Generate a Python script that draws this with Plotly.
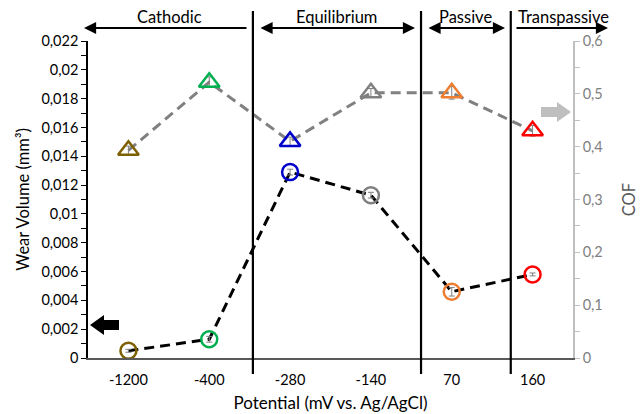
import plotly.graph_objects as go

# ---- data ----
potentials = ["-1200", "-400", "-280", "-140", "70", "160"]
wear_volume = [0.0005, 0.0013, 0.0129, 0.0113, 0.0046, 0.0058]
wear_err = [0.0001, 0.0002, 0.0002, 0.0002, 0.0003, 0.0001]
cof = [0.393, 0.522, 0.41, 0.502, 0.502, 0.43]
cof_err = [0.008, 0.01, 0.008, 0.008, 0.012, 0.01]
point_colors = ["#7F6000", "#00B050", "#0000CC", "#808080", "#ED7D31", "#FF0000"]
left_ticks = [0, 0.002, 0.004, 0.006, 0.008, 0.01, 0.012, 0.014, 0.016, 0.018, 0.02, 0.022]
right_ticks = [0, 0.1, 0.2, 0.3, 0.4, 0.5, 0.6]
regions = ["Cathodic", "Equilibrium", "Passive", "Transpassive"]
region_bounds = [1.54, 3.62, 4.73]

W, H = 642, 414
L, R, T, B = 88, 573, 41, 358
FONT = "Lato"


def px(x):
    return (x - L) / (R - L)


def py(y):
    return (B - y) / (B - T)


fig = go.Figure()

# COF (secondary axis)
fig.add_trace(go.Scatter(
    x=potentials, y=cof, yaxis="y2", mode="lines",
    line=dict(color="#808080", width=3, dash="10px,6px"),
    hoverinfo="skip", showlegend=False))
fig.add_trace(go.Scatter(
    x=potentials, y=cof, yaxis="y2", mode="markers",
    marker=dict(symbol="triangle-up-open", size=18, color=point_colors,
                line=dict(width=2.5)),
    error_y=dict(type="data", array=cof_err, color="#7F7F7F", thickness=1, width=3),
    showlegend=False))

# Wear volume (primary axis)
fig.add_trace(go.Scatter(
    x=potentials, y=wear_volume, mode="lines",
    line=dict(color="#000000", width=3, dash="10px,6px"),
    hoverinfo="skip", showlegend=False))
fig.add_trace(go.Scatter(
    x=potentials, y=wear_volume, mode="markers",
    marker=dict(symbol="circle-open", size=16, color=point_colors,
                line=dict(width=2.5)),
    error_y=dict(type="data", array=wear_err, color="#7F7F7F", thickness=1, width=3),
    showlegend=False))

shapes = []
# region separators
for xb in region_bounds:
    shapes.append(dict(type="line", xref="x", yref="paper", x0=xb, x1=xb,
                       y0=py(374), y1=py(11), line=dict(color="#000000", width=2.2)))

# block arrows
# left black arrow (wear volume axis)
bx = [90, 104, 104, 119, 119, 104, 104]
by = [325, 315, 320, 320, 330, 330, 335]
path = "M " + " L ".join(f"{px(a)},{py(b)}" for a, b in zip(bx, by)) + " Z"
shapes.append(dict(type="path", xref="paper", yref="paper", path=path,
                   fillcolor="#000000", line=dict(width=0)))
# right grey arrow (COF axis)
gx = [571, 557, 557, 541, 541, 557, 557]
gy = [112, 102, 107, 107, 117, 117, 122]
path = "M " + " L ".join(f"{px(a)},{py(b)}" for a, b in zip(gx, gy)) + " Z"
shapes.append(dict(type="path", xref="paper", yref="paper", path=path,
                   fillcolor="#BFBFBF", line=dict(width=0)))

annotations = []
# region arrows: (tail_x, head_x, double)
arrow_specs = [(248, 84, False), (259, 415, True), (427, 505, True), (515, 608, False)]
label_x = [169, 336, 465, 563]
for (tx, hx, dbl), lx, name in zip(arrow_specs, label_x, regions):
    annotations.append(dict(
        xref="paper", yref="paper", x=px(hx), y=py(28),
        ax=tx - hx, ay=0, axref="pixel", ayref="pixel",
        text="", showarrow=True, arrowhead=2, arrowsize=1.1, arrowwidth=2.2,
        arrowcolor="#000000", arrowside="end+start" if dbl else "end",
        startarrowhead=2, startarrowsize=1.1))
    annotations.append(dict(
        xref="paper", yref="paper", x=px(lx), y=py(17), text=name,
        showarrow=False, font=dict(family=FONT, size=16.5, color="#000000"),
        xanchor="center", yanchor="middle"))

fig.update_layout(
    width=W, height=H,
    margin=dict(l=L, r=W - R, t=T, b=H - B, autoexpand=False),
    paper_bgcolor="white", plot_bgcolor="white",
    font=dict(family=FONT, color="#000000"),
    showlegend=False,
    shapes=shapes,
    annotations=annotations,
    xaxis=dict(
        type="category", range=[-0.5, 5.5], showgrid=False, zeroline=False,
        automargin=False,
        showline=True, linecolor="#595959", linewidth=1.5,
        ticks="", ticklabelstandoff=8,
        tickfont=dict(family=FONT, size=14.5, color="#000000"),
        title=dict(text="Potential (mV vs. Ag/AgCl)", standoff=10,
                   font=dict(family=FONT, size=17, color="#000000"))),
    yaxis=dict(
        range=[0, 0.022], showgrid=False, zeroline=False,
        automargin=False,
        showline=True, linecolor="#000000", linewidth=1.5,
        tickmode="array", tickvals=left_ticks,
        ticktext=[f"{v:g}".replace(".", ",") for v in left_ticks],
        ticks="outside", ticklen=5, tickcolor="#000000", tickwidth=1.2,
        minor=dict(tickvals=[v + 0.001 for v in left_ticks[:-1]], ticks="outside",
                   ticklen=5, tickcolor="#000000", tickwidth=1.2, showgrid=False),
        tickfont=dict(family=FONT, size=14.5, color="#000000"),
        title=dict(text="Wear Volume (mm³)", standoff=8,
                   font=dict(family=FONT, size=16.5, color="#000000"))),
    yaxis2=dict(
        overlaying="y", side="right", anchor="x",
        automargin=False,
        range=[0, 0.6], showgrid=False, zeroline=False,
        showline=True, linecolor="#BFBFBF", linewidth=1.5,
        tickmode="array", tickvals=right_ticks,
        ticktext=[f"{v:g}".replace(".", ",") for v in right_ticks],
        ticks="outside", ticklen=5, tickcolor="#BFBFBF", tickwidth=1.2,
        minor=dict(tickvals=[v + 0.05 for v in right_ticks[:-1]], ticks="outside",
                   ticklen=5, tickcolor="#BFBFBF", tickwidth=1.2, showgrid=False),
        tickfont=dict(family=FONT, size=14.5, color="#7F7F7F"),
        title=dict(text="COF", standoff=22,
                   font=dict(family=FONT, size=16.5, color="#595959"))),
)

fig.write_html("out.html", config={"displayModeBar": False},
               post_script="document.body.style.margin='0';")
